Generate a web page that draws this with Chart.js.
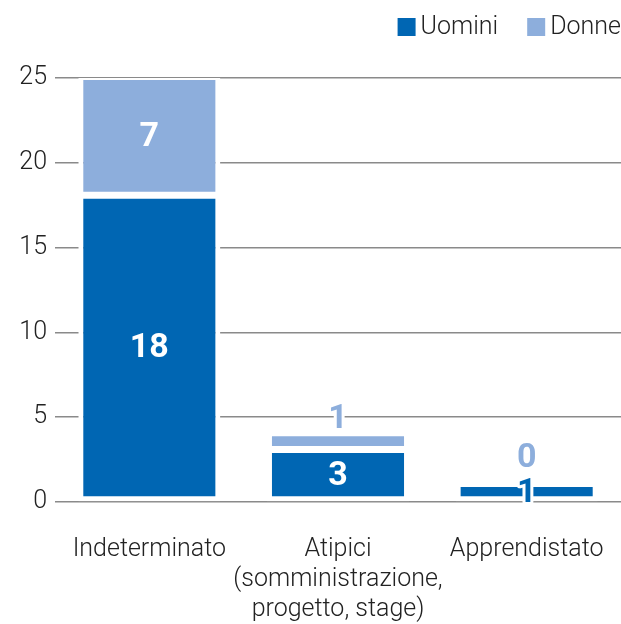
<!DOCTYPE html>
<html>
<head>
<meta charset="utf-8">
<script src="https://cdn.jsdelivr.net/npm/chart.js@4"></script>
<style>
  html, body { margin: 0; padding: 0; background: #fff; }
  #wrap { width: 621px; height: 624px; }
</style>
</head>
<body>
<div id="wrap"><canvas id="chart"></canvas></div>
<script>
const categories = ['Indeterminato', ['Atipici', '(somministrazione,', 'progetto, stage)'], 'Apprendistato'];
const uomini = [18, 3, 1];
const donne = [7, 1, 0];
const yTicks = [0, 5, 10, 15, 20, 25];

const blue = '#0066b3';
const lightBlue = '#8daedc';
const fontFamily = 'Roboto, "Open Sans", sans-serif';
const textFont = '300 25px ' + fontFamily;

// etichette dei valori dentro o sopra le barre
const valueLabels = {
    id: 'valueLabels',
    afterDatasetsDraw(chart) {
        const ctx = chart.ctx;
        ctx.save();
        ctx.font = 'bold 34px ' + fontFamily;
        ctx.textAlign = 'center';
        ctx.textBaseline = 'middle';
        ctx.lineJoin = 'round';
        chart.data.datasets.forEach((ds, di) => {
            const meta = chart.getDatasetMeta(di);
            meta.data.forEach((bar, i) => {
                const v = ds.data[i];
                const h = Math.abs(bar.base - bar.y);
                let y = (bar.y + bar.base) / 2;
                let color = '#fff';
                let stroke = false;
                if (h < 30) {
                    color = ds.backgroundColor;
                    stroke = true;
                    if (di === 1) y = bar.y - (v === 0 ? 27 : 15);
                }
                if (stroke) {
                    ctx.strokeStyle = '#fff';
                    ctx.lineWidth = 6;
                    ctx.strokeText(String(v), bar.x, y);
                }
                ctx.fillStyle = color;
                ctx.fillText(String(v), bar.x, y);
            });
        });
        ctx.restore();
    }
};

// legenda in alto a destra, quadratini vicini al testo
const topLegend = {
    id: 'topLegend',
    afterDraw(chart) {
        const ctx = chart.ctx;
        ctx.save();
        ctx.font = textFont;
        ctx.textBaseline = 'middle';
        ctx.textAlign = 'left';
        let x = chart.width;
        const items = chart.data.datasets.slice().reverse();
        items.forEach(ds => {
            const w = ctx.measureText(ds.label).width;
            const textX = x - w;
            const boxX = textX - 5 - 18;
            ctx.fillStyle = ds.backgroundColor;
            ctx.fillRect(boxX, 18, 18, 18);
            ctx.fillStyle = '#222';
            ctx.fillText(ds.label, textX, 28);
            x = boxX - 29;
        });
        ctx.restore();
    }
};

const barStyle = {
    borderColor: '#fff',
    borderWidth: {top: 2, bottom: 5, left: 5, right: 5},
    borderSkipped: false,
    barPercentage: 1,
    categoryPercentage: 0.753
};

new Chart(document.getElementById('chart'), {
    type: 'bar',
    data: {
        labels: categories,
        datasets: [
            Object.assign({label: 'Uomini', data: uomini, backgroundColor: blue}, barStyle),
            Object.assign({label: 'Donne', data: donne, backgroundColor: lightBlue}, barStyle)
        ]
    },
    options: {
        responsive: true,
        maintainAspectRatio: false,
        animation: false,
        layout: {padding: {left: 0, right: -4, top: 78, bottom: 0}},
        plugins: {
            legend: {display: false},
            tooltip: {enabled: false}
        },
        scales: {
            x: {
                stacked: true,
                grid: {display: false, drawTicks: false},
                border: {display: false},
                afterFit(scale) {
                    scale.height = 122;
                    scale.paddingLeft = 0;
                    scale.paddingRight = 0;
                },
                ticks: {
                    color: '#222',
                    padding: 33,
                    maxRotation: 0,
                    autoSkip: false,
                    font: {family: fontFamily, size: 25, weight: 300, lineHeight: 1.2}
                }
            },
            y: {
                stacked: true,
                min: 0,
                max: 25,
                afterBuildTicks(axis) {
                    axis.ticks = yTicks.map(v => ({value: v}));
                },
                afterFit(scale) {
                    scale.width = 55;
                },
                grid: {color: '#8a8a8a', lineWidth: 1.5, drawTicks: false},
                border: {display: false},
                ticks: {
                    color: '#222',
                    padding: 8,
                    font: {family: fontFamily, size: 25, weight: 300}
                }
            }
        }
    },
    plugins: [valueLabels, topLegend]
});
</script>
</body>
</html>
